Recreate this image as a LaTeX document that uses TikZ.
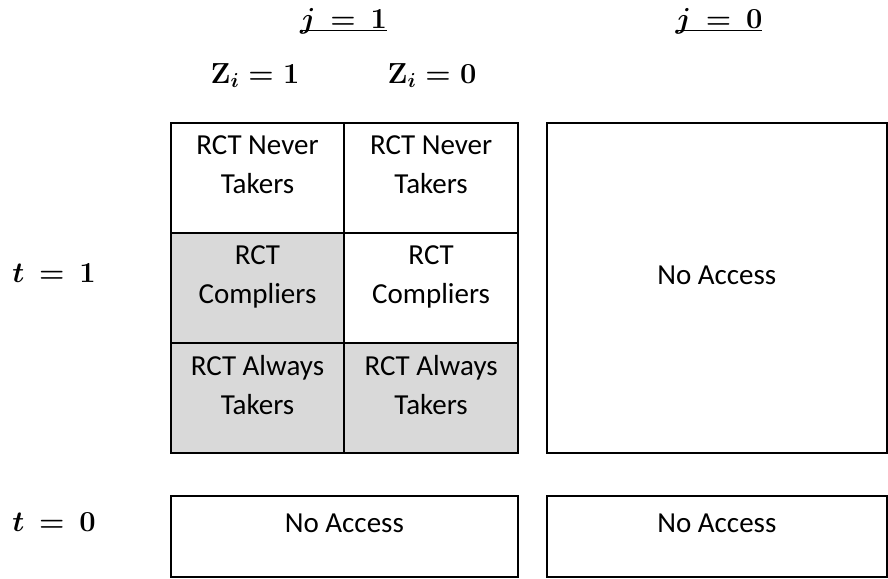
\RequirePackage{fix-cm}
\documentclass[tikz,border=0pt]{standalone}
\usepackage[no-math]{fontspec}
\setmainfont{Carlito}
\usetikzlibrary{positioning}
\definecolor{cell_gray}{RGB}{217, 217, 217}
\tikzset {
  cell/.style = {draw, line width=2pt, minimum width=173.6pt, minimum height=110pt, inner sep=0pt, outer sep=0pt},
  bigcell/.style = {draw, line width=2pt, minimum width=340.3pt, minimum height=330pt, inner sep=0pt, outer sep=0pt},
  wide/.style = {draw, line width=2pt, minimum height=81pt, inner sep=0pt, outer sep=0pt},
  cellText/.style = {font=\fontsize{29}{39}\selectfont, align=center, inner sep=0pt},
  head/.style = {font=\fontsize{29}{35}\selectfont\boldmath, inner sep=0pt, anchor=base}
}

\begin{document}
\begin{tikzpicture}[x=1pt, y=-1pt]
    \useasboundingbox (0,0) rectangle (888,578);
    % column and row headings
    \node[head, name=jone] (jone) at (343.5,29) {$\underline{\smash{j\,=\,1}}$};
    \node[head, name=jzero] (jzero) at (719,29) {$\underline{\smash{j\,=\,0}}$};
    \node[head, name=zone] (zone) at (255,83) {$\mathbf{Z}_{i} = 1$};
    \node[head, name=zzero] (zzero) at (432,83) {$\mathbf{Z}_{i} = 0$};
    \node[head, name=tone] (tone) at (54,282) {$t\,=\,1$};
    \node[head, name=tzero] (tzero) at (54,531) {$t\,=\,0$};

    % RCT grid
    \node[cell, name=c11] (c11) at (257.5,178) {};
    \node[cell, name=c12, right=0pt of c11] (c12) {};
    \node[cell, fill=cell_gray, name=c21, below=0pt of c11] (c21) {};
    \node[cell, name=c22, right=0pt of c21] (c22) {};
    \node[cell, fill=cell_gray, name=c31, below=0pt of c21] (c31) {};
    \node[cell, fill=cell_gray, name=c32, right=0pt of c31] (c32) {};
    \node[bigcell, name=noacc, right=28.7pt of c12.north east, anchor=north west] (noacc) {};

    \node[cellText, below=12pt of c11.north] (n11) {RCT Never\\Takers};
    \node[cellText, below=12pt of c12.north] (n12) {RCT Never\\Takers};
    \node[cellText, below=12pt of c21.north] (n21) {RCT\\Compliers};
    \node[cellText, below=12pt of c22.north] (n22) {RCT\\Compliers};
    \node[cellText, below=12pt of c31.north] (n31) {RCT Always\\Takers};
    \node[cellText, below=12pt of c32.north] (n32) {RCT Always\\Takers};
    \node[cellText, yshift=13pt] (nbig) at (noacc.center) {No Access};

    % t = 0 row
    \node[wide, minimum width=347.3pt, name=bleft] (bleft) at (344.35,536.5) {};
    \node[wide, minimum width=340.3pt, name=bright] (bright) at (716.85,536.5) {};
    \node[cellText, yshift=13.5pt] (nbl) at (bleft.center) {No Access};
    \node[cellText, yshift=13.5pt] (nbr) at (bright.center) {No Access};

  \end{tikzpicture}
\end{document}
